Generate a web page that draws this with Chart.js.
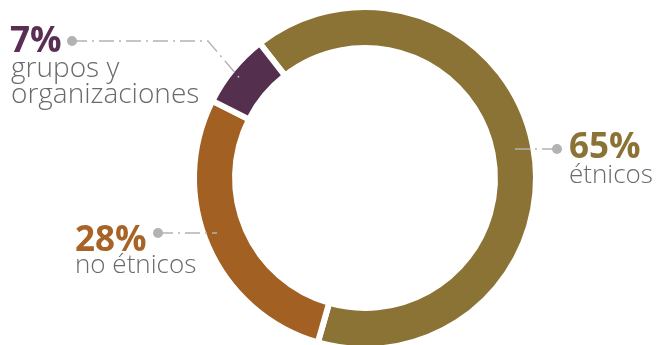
<!DOCTYPE html>
<html>
<head>
<meta charset="utf-8">
<script src="https://cdn.jsdelivr.net/npm/chart.js@4/dist/chart.umd.min.js"></script>
<style>
  html, body { margin: 0; padding: 0; background: #fff; overflow: hidden; }
  #wrap { position: absolute; left: 0; top: 0; width: 659px; height: 360px; }
</style>
</head>
<body>
<div id="wrap"><canvas id="c" width="659" height="360"></canvas></div>
<script>
// ---- data ----
const categories = ["étnicos", "no étnicos", "grupos y organizaciones"];
const values = [65, 28, 7];
const percentLabels = ["65%", "28%", "7%"];
const subLabels = [["étnicos"], ["no étnicos"], ["grupos y", "organizaciones"]];
const colors = ["#8B7335", "#A26022", "#552F4E"];
const textColors = ["#8B7335", "#A86426", "#5A2D52"];

// ---- label layout (annotation positions) ----
const labelLayout = [
  { px: 569, py: 158, sx: 569, sy: [183], subSize: 26, dot: [557, 149], path: [[513, 149]], },
  { px: 75,  py: 251, sx: 75,  sy: [273], subSize: 26, dot: [158, 233], path: [[217, 233]], },
  { px: 10,  py: 52,  sx: 11,  sy: [77, 103], subSize: 28, dot: [72, 41], path: [[208, 41], [242, 81]], }
];

const labelPlugin = {
  id: 'labels',
  afterDatasetsDraw(chart) {
    const ctx = chart.ctx;
    ctx.save();
    labelLayout.forEach((L, i) => {
      // leader line
      ctx.beginPath();
      ctx.strokeStyle = '#b3b3b3';
      ctx.lineWidth = 1.4;
      ctx.setLineDash([15, 5, 2, 5]);
      ctx.moveTo(L.dot[0], L.dot[1]);
      L.path.forEach(p => ctx.lineTo(p[0], p[1]));
      ctx.stroke();
      ctx.setLineDash([]);
      // dot
      ctx.beginPath();
      ctx.fillStyle = '#b3b3b3';
      ctx.arc(L.dot[0], L.dot[1], 5, 0, Math.PI * 2);
      ctx.fill();
      // percent
      ctx.fillStyle = textColors[i];
      ctx.font = '700 35px "Open Sans", Lato, sans-serif';
      ctx.textAlign = 'left';
      ctx.textBaseline = 'alphabetic';
      ctx.fillText(percentLabels[i], L.px, L.py);
      // sub label
      ctx.fillStyle = '#6a6a6a';
      ctx.font = '300 ' + L.subSize + 'px "Open Sans", Lato, sans-serif';
      subLabels[i].forEach((t, k) => ctx.fillText(t, L.sx, L.sy[k]));
    });
    ctx.restore();
  }
};

new Chart(document.getElementById('c'), {
  type: 'doughnut',
  data: {
    labels: categories,
    datasets: [{
      data: values,
      backgroundColor: colors,
      borderColor: '#ffffff',
      borderWidth: 6,
      hoverOffset: 0
    }]
  },
  options: {
    responsive: false,
    animation: false,
    events: [],
    rotation: -38,
    cutout: '76%',
    layout: { padding: { top: 4, bottom: 8, left: 71, right: 0 } },
    plugins: { legend: { display: false }, tooltip: { enabled: false } }
  },
  plugins: [labelPlugin]
});
</script>
</body>
</html>
